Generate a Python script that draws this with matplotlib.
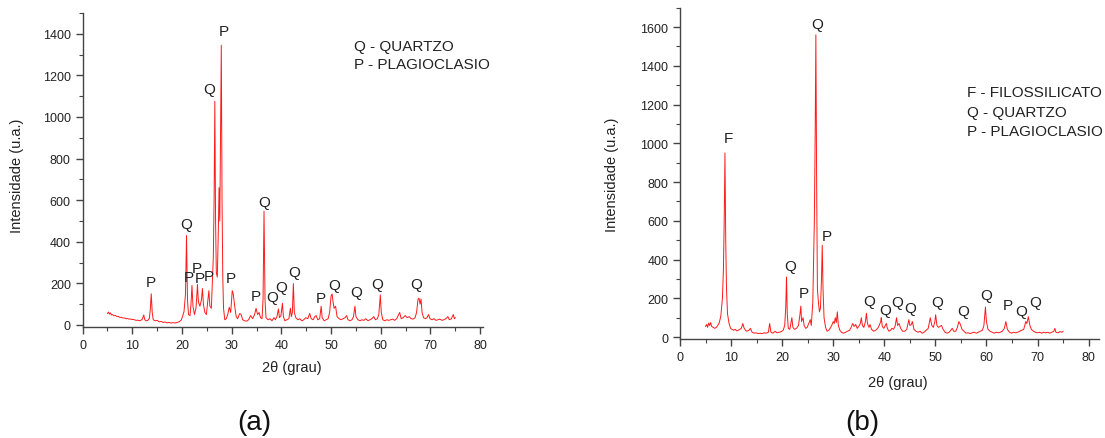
import numpy as np
import matplotlib
matplotlib.use('Agg')
import matplotlib.pyplot as plt
import matplotlib.ticker as mticker

plt.rcParams['font.family'] = ['Liberation Sans', 'DejaVu Sans']

#%% Diffraction data (2theta in degrees, intensity in a.u.)

# Sample (a): quartz + plagioclase
two_theta_a = [
    5.0, 5.2, 5.4, 5.6, 5.8, 6.0, 6.3, 6.6, 6.9, 7.2, 7.5, 7.8, 8.1, 8.4, 8.7, 9.0,
    9.3, 9.6, 9.9, 10.2, 10.5, 10.8, 11.1, 11.4, 11.7, 12.0, 12.3, 12.5, 12.8, 13.1,
    13.4, 13.6, 13.8, 14.0, 14.2, 14.6, 15.0, 15.4, 15.8, 16.2, 16.6, 17.0, 17.4,
    17.8, 18.2, 18.6, 19.0, 19.4, 19.8, 20.1, 20.4, 20.7, 20.9, 21.1, 21.3, 21.6,
    21.8, 22.0, 22.2, 22.5, 22.8, 23.0, 23.1, 23.3, 23.6, 23.9, 24.1, 24.3, 24.6,
    24.9, 25.2, 25.4, 25.6, 25.9, 26.1, 26.3, 26.45, 26.6, 26.75, 26.9, 27.1, 27.3,
    27.45, 27.6, 27.75, 27.9, 28.05, 28.2, 28.35, 28.6, 28.9, 29.2, 29.5, 29.8, 30.1,
    30.3, 30.6, 30.9, 31.2, 31.6, 31.9, 32.2, 32.6, 33.0, 33.4, 33.8, 34.2, 34.6,
    34.9, 35.2, 35.5, 35.8, 36.1, 36.3, 36.5, 36.7, 36.9, 37.3, 37.7, 38.1, 38.5,
    38.8, 39.1, 39.4, 39.6, 39.9, 40.2, 40.4, 40.7, 41.1, 41.5, 41.8, 42.0, 42.2,
    42.4, 42.6, 42.9, 43.3, 43.7, 44.1, 44.5, 44.9, 45.3, 45.7, 46.0, 46.4, 46.7,
    47.0, 47.3, 47.7, 48.0, 48.2, 48.6, 49.0, 49.4, 49.7, 50.0, 50.2, 50.4, 50.6,
    50.9, 51.2, 51.6, 52.0, 52.4, 52.8, 53.1, 53.4, 53.8, 54.2, 54.5, 54.8, 55.0,
    55.4, 55.8, 56.2, 56.6, 57.0, 57.4, 57.8, 58.2, 58.6, 58.9, 59.3, 59.6, 59.9,
    60.1, 60.4, 60.8, 61.2, 61.6, 62.0, 62.4, 62.8, 63.2, 63.5, 63.8, 64.1, 64.5,
    64.9, 65.3, 65.7, 66.1, 66.5, 66.9, 67.2, 67.5, 67.7, 67.9, 68.1, 68.3, 68.6,
    69.0, 69.3, 69.6, 69.9, 70.3, 70.7, 71.1, 71.5, 71.9, 72.3, 72.7, 73.1, 73.5,
    73.8, 74.2, 74.6, 74.8, 75.0]
intensity_a = [
    55, 62, 52, 58, 48, 50, 44, 46, 40, 41, 36, 37, 33, 34, 30, 31,
    28, 29, 26, 27, 24, 22, 23, 20, 22, 28, 48, 25, 20, 22,
    30, 70, 150, 60, 25, 20, 22, 15, 17, 12, 14, 10, 12,
    9, 11, 9, 12, 15, 22, 40, 65, 150, 430, 120, 50, 45,
    100, 190, 90, 50, 80, 150, 195, 110, 90, 120, 175, 100, 60,
    50, 120, 165, 90, 80, 200, 330, 600, 1075, 500, 250, 230, 450,
    660, 500, 900, 1345, 600, 230, 80, 25, 30, 50, 85, 60, 165,
    150, 90, 40, 30, 55, 50, 25, 20, 18, 25, 45, 30, 50,
    80, 50, 60, 35, 30, 120, 547, 120, 35, 25, 30, 20, 35,
    25, 40, 77, 35, 45, 104, 40, 20, 25, 30, 80, 40, 60,
    199, 60, 35, 25, 30, 20, 25, 35, 30, 55, 30, 25, 40,
    45, 25, 30, 90, 35, 20, 25, 30, 60, 140, 149, 110, 80,
    90, 40, 30, 25, 30, 35, 45, 25, 20, 25, 40, 90, 40,
    25, 20, 25, 22, 30, 20, 25, 30, 40, 25, 30, 50, 144,
    60, 25, 20, 25, 22, 25, 28, 22, 30, 45, 60, 30, 35,
    45, 35, 40, 30, 28, 35, 60, 125, 128, 100, 125, 60, 35,
    30, 35, 50, 30, 25, 30, 22, 25, 28, 22, 25, 30, 40,
    25, 30, 50, 30, 35]

# Peak labels for sample (a)
labels_a = ['P', 'Q', 'P', 'P', 'P', 'P', 'Q', 'P', 'P', 'P', 'Q', 'Q', 'Q', 'Q',
            'P', 'Q', 'Q', 'Q', 'Q']
label_x_a = [13.8, 20.9, 21.4, 22.9, 23.6, 25.4, 25.5, 28.4, 29.9, 34.9, 36.5,
             38.2, 40.0, 42.5, 47.9, 50.6, 55.1, 59.2, 67.1]
label_y_a = [205, 486, 229, 273, 225, 234, 1135, 1414, 225, 138, 593,
             133, 181, 253, 128, 194, 160, 197, 197]
legend_a = ['Q - QUARTZO', 'P - PLAGIOCLASIO']

# Sample (b): phyllosilicate + quartz + plagioclase
two_theta_b = [
    5.0, 5.2, 5.4, 5.6, 5.8, 6.0, 6.2, 6.5, 6.8, 7.1, 7.4, 7.7, 8.0, 8.3, 8.5, 8.65,
    8.8, 8.95, 9.1, 9.3, 9.6, 9.9, 10.2, 10.5, 10.8, 11.1, 11.4, 11.7, 12.0, 12.3,
    12.5, 12.8, 13.1, 13.5, 13.8, 14.1, 14.5, 14.9, 15.3, 15.7, 16.1, 16.5, 16.9,
    17.3, 17.55, 17.8, 18.2, 18.6, 19.0, 19.4, 19.8, 20.2, 20.5, 20.7, 20.85, 21.0,
    21.2, 21.5, 21.9, 22.1, 22.4, 22.8, 23.2, 23.5, 23.65, 23.8, 24.1, 24.3, 24.6,
    24.9, 25.2, 25.5, 25.7, 26.0, 26.3, 26.45, 26.6, 26.75, 26.9, 27.1, 27.3, 27.5,
    27.7, 27.85, 28.0, 28.2, 28.5, 28.8, 29.1, 29.4, 29.7, 30.0, 30.2, 30.4, 30.6,
    30.8, 31.0, 31.3, 31.6, 32.0, 32.4, 32.8, 33.2, 33.5, 33.8, 34.1, 34.4, 34.7,
    35.0, 35.3, 35.5, 35.7, 36.0, 36.3, 36.5, 36.7, 37.0, 37.2, 37.5, 37.9, 38.3,
    38.7, 39.0, 39.3, 39.4, 39.6, 39.9, 40.2, 40.4, 40.6, 40.9, 41.2, 41.5, 41.8,
    42.1, 42.4, 42.6, 42.9, 43.2, 43.6, 44.0, 44.4, 44.8, 45.0, 45.3, 45.5, 45.8,
    46.2, 46.6, 47.0, 47.4, 47.8, 48.2, 48.6, 49.0, 49.3, 49.6, 49.9, 50.05, 50.3,
    50.6, 50.9, 51.2, 51.5, 51.9, 52.3, 52.7, 53.0, 53.3, 53.6, 54.0, 54.3, 54.6,
    54.9, 55.2, 55.6, 56.0, 56.4, 56.8, 57.2, 57.6, 58.0, 58.4, 58.8, 59.2, 59.5,
    59.8, 60.0, 60.3, 60.7, 61.1, 61.5, 61.9, 62.3, 62.7, 63.1, 63.5, 63.8, 64.1,
    64.5, 64.9, 65.3, 65.7, 66.1, 66.5, 66.9, 67.3, 67.7, 67.9, 68.2, 68.5, 68.8,
    69.2, 69.6, 70.0, 70.4, 70.8, 71.2, 71.6, 72.0, 72.4, 72.8, 73.2, 73.4, 73.6,
    74.0, 74.4, 74.8, 75.0]
intensity_b = [
    55, 65, 50, 72, 60, 75, 55, 50, 45, 50, 60, 75, 110, 200, 350, 600,
    950, 500, 250, 120, 70, 45, 40, 35, 40, 32, 35, 40, 45, 70,
    50, 35, 30, 35, 45, 25, 20, 22, 18, 20, 18, 22, 20,
    25, 70, 25, 20, 30, 22, 25, 28, 35, 60, 150, 310, 120,
    45, 40, 100, 50, 40, 45, 60, 120, 160, 80, 100, 60, 45,
    50, 70, 90, 60, 180, 600, 1000, 1560, 800, 250, 180, 130, 150,
    300, 474, 250, 100, 50, 30, 35, 45, 60, 80, 70, 100, 75,
    130, 60, 35, 25, 20, 25, 30, 35, 50, 70, 55, 65, 45,
    55, 70, 100, 60, 50, 80, 123, 70, 50, 65, 40, 30, 35,
    45, 60, 80, 100, 55, 45, 60, 70, 45, 30, 35, 45, 40,
    55, 100, 60, 70, 45, 30, 30, 40, 90, 60, 65, 80, 40,
    30, 25, 30, 20, 25, 35, 45, 100, 60, 50, 80, 115, 60,
    50, 55, 60, 40, 25, 20, 25, 35, 45, 30, 30, 50, 80,
    65, 40, 30, 20, 22, 18, 22, 25, 20, 25, 30, 35, 60,
    155, 80, 40, 30, 25, 20, 25, 22, 25, 30, 45, 80, 40,
    25, 20, 25, 22, 25, 30, 35, 40, 80, 70, 105, 60, 40,
    30, 25, 22, 25, 20, 25, 22, 25, 20, 25, 30, 45, 25,
    22, 28, 25, 30]

# Peak labels for sample (b)
labels_b = ['F', 'Q', 'P', 'Q', 'P', 'Q', 'Q', 'Q', 'Q', 'Q', 'Q', 'Q', 'P', 'Q', 'Q']
label_x_b = [9.4, 21.5, 24.3, 26.9, 28.7, 37.0, 40.1, 42.6, 45.0, 50.4, 55.4,
             60.0, 64.2, 66.8, 69.5]
label_y_b = [1026, 368, 228, 1617, 523, 184, 142, 181, 149, 181, 137,
             219, 167, 137, 181]
legend_b = ['F - FILOSSILICATO', 'Q - QUARTZO', 'P - PLAGIOCLASIO']

#%% Plotting

TEXT = '#222222'
AXIS = '#444444'


def style_axes(ax, ymax, ystep):
    for side in ['top', 'right']:
        ax.spines[side].set_visible(False)
    for side in ['left', 'bottom']:
        ax.spines[side].set_color(AXIS)
        ax.spines[side].set_linewidth(1.0)
    ax.xaxis.set_major_locator(mticker.MultipleLocator(10))
    ax.xaxis.set_minor_locator(mticker.MultipleLocator(5))
    ax.yaxis.set_major_locator(mticker.MultipleLocator(ystep))
    ax.yaxis.set_minor_locator(mticker.MultipleLocator(ystep / 2))
    ax.set_ylim(-10, ymax)
    ax.tick_params(which='both', direction='out', color=AXIS, labelcolor=TEXT,
                   labelsize=9)
    ax.tick_params(which='major', length=5, width=1)
    ax.tick_params(which='minor', length=3, width=0.8)


def plot_pattern(ax, x, y, lab, lx, ly, legend, legend_xy, legend_dy):
    ax.plot(x, y, color='#ff1a1a', lw=0.7)
    for t, px, py in zip(lab, lx, ly):
        ax.text(px, py, t, ha='center', va='center', fontsize=11, color=TEXT)
    for i, line in enumerate(legend):
        ax.text(legend_xy[0], legend_xy[1] - i * legend_dy, line, ha='left',
                va='center', fontsize=11, color=TEXT)
    ax.set_ylabel('Intensidade (u.a.)', fontsize=10.5, color=TEXT)
    ax.set_xlabel('2θ (grau)', fontsize=10.5, color=TEXT)


fig = plt.figure(figsize=(11.05, 4.39), dpi=100)

ax_a = fig.add_axes([0.0748, 0.2528, 0.362, 0.7153])
plot_pattern(ax_a, two_theta_a, intensity_a, labels_a, label_x_a, label_y_a,
             legend_a, (54.6, 1342), 87)
style_axes(ax_a, 1500, 200)
ax_a.set_xlim(0, 80.5)
ax_a.yaxis.set_label_coords(-0.147, 0.484)
ax_a.xaxis.set_label_coords(0.523, -0.105)

ax_b = fig.add_axes([0.6154, 0.2255, 0.379, 0.7547])
plot_pattern(ax_b, two_theta_b, intensity_b, labels_b, label_x_b, label_y_b,
             legend_b, (56.2, 1263), 100)
style_axes(ax_b, 1700, 200)
ax_b.set_xlim(0, 82)
ax_b.yaxis.set_label_coords(-0.1456, 0.5)
ax_b.xaxis.set_label_coords(0.52, -0.11)

fig.text(254 / 1105, 1 - 423 / 439, '(a)', ha='center', va='center',
         fontsize=20, color='#111111')
fig.text(862 / 1105, 1 - 423 / 439, '(b)', ha='center', va='center',
         fontsize=20, color='#111111')

fig.savefig('out.png', dpi=100)
